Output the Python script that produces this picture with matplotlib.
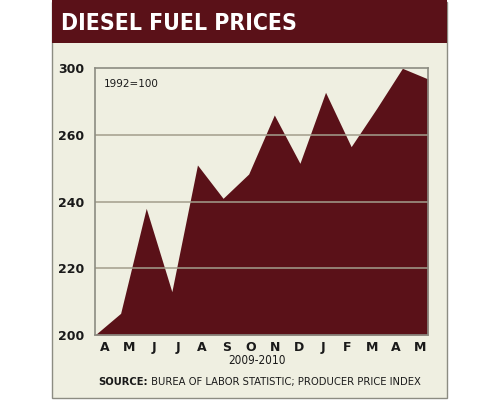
import numpy as np
import matplotlib.pyplot as plt
from matplotlib.patches import Rectangle

# monthly index values, Apr 2009 - May 2010 (positions)
months = ["A", "M", "J", "J", "A", "S", "O", "N", "D", "J", "F", "M", "A", "M"]
values = [200, 206.5, 238, 213, 251, 241, 248.3, 266, 251.5, 272.8, 256.5, 268, 280, 276.8]
ytick_pos = [200, 220, 240, 260, 280]
ytick_lab = ["200", "220", "240", "260", "300"]

dark = "#5a1118"
beige = "#efefe1"
grid_col = "#a39e8c"
txt = "#1a1a1a"

fig = plt.figure(figsize=(5, 4), dpi=100)
fig.patch.set_facecolor("white")

# background panel and title bar (behind the axes)
fig.patches.append(Rectangle((52 / 500, 2 / 400), 395 / 500, 396 / 400, transform=fig.transFigure,
                             facecolor=beige, edgecolor="#8c8c82", lw=1.0, zorder=-10))
fig.patches.append(Rectangle((52 / 500, 1 - 43 / 400), 395 / 500, 43 / 400, transform=fig.transFigure,
                             facecolor=dark, edgecolor="none", zorder=-9))
fig.text(61 / 500, 1 - 23.5 / 400, "DIESEL FUEL PRICES", color="white", fontsize=16.5,
         fontweight="bold", fontstretch="condensed", va="center", ha="left")

ax = fig.add_axes([95 / 500, 1 - 335 / 400, 333 / 500, (335 - 68.3) / 400])
ax.set_facecolor(beige)
x = np.arange(len(values))
ax.fill_between(x, 200, values, color=dark, lw=0, zorder=2)
for yv in ytick_pos[1:-1]:
    ax.axhline(yv, color=grid_col, lw=1.3, alpha=0.85, zorder=3)

ax.set_xlim(0, len(values) - 1)
ax.set_ylim(200, 280)
ax.set_yticks(ytick_pos)
ax.set_yticklabels(ytick_lab, fontsize=9, fontweight="bold", color=txt)
ax.set_xticks(np.linspace(0.4, 12.7, len(months)))
ax.set_xticklabels(months, fontsize=9, fontweight="bold", color=txt)
ax.tick_params(length=0, pad=4)
ax.tick_params(axis="y", pad=8)
for s in ax.spines.values():
    s.set_color("#8c8c82")
    s.set_linewidth(1.2)
    s.set_zorder(4)

ax.text(0.025, 0.94, "1992=100", transform=ax.transAxes, fontsize=7.5,
        color=txt, va="center", ha="left")

fig.text(257 / 500, 1 - 360 / 400, "2009-2010", fontsize=8.5, fontstretch="condensed",
         color=txt, ha="center", va="center")
src = fig.text(98 / 500, 1 - 382 / 400, "SOURCE:", fontsize=8, fontweight="bold",
               fontstretch="condensed", color=txt, ha="left", va="center")
ax.annotate(" BUREA OF LABOR STATISTIC; PRODUCER PRICE INDEX", xy=(1, 0), xycoords=src,
            fontsize=8, fontstretch="condensed", color=txt, ha="left", va="bottom",
            annotation_clip=False)

fig.savefig("out.png", dpi=100, facecolor="white")
